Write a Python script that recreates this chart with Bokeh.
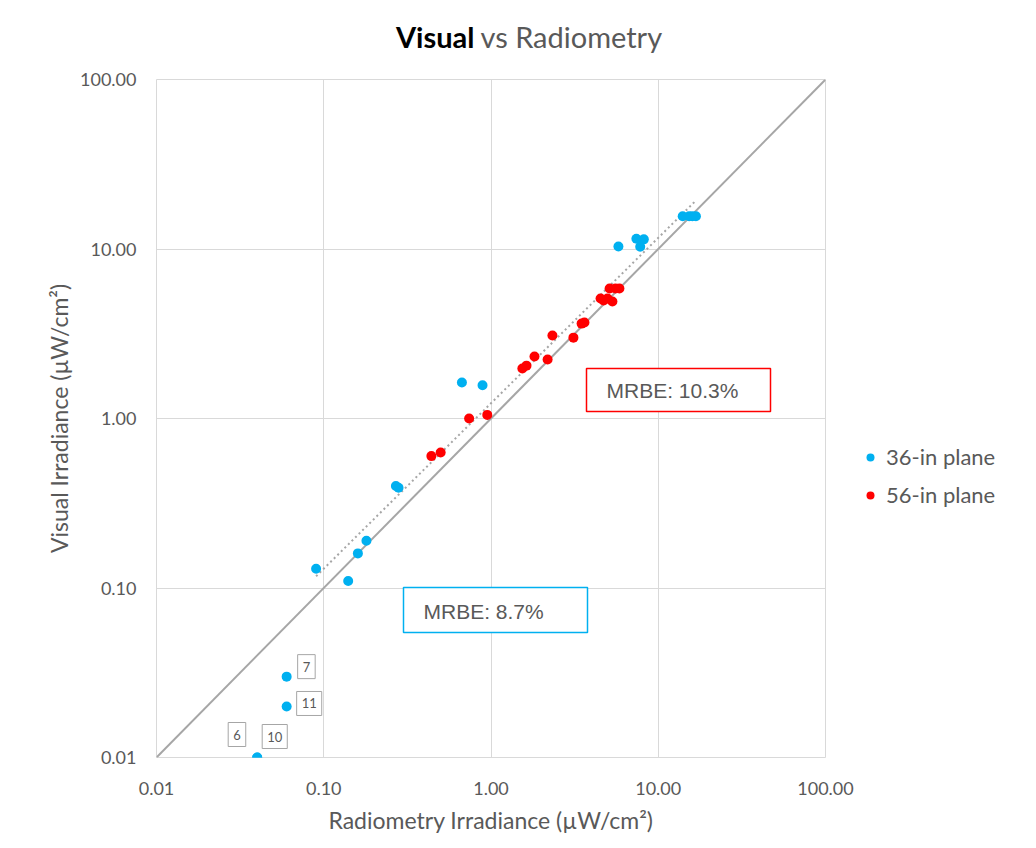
import numpy as np
from bokeh.plotting import figure
from bokeh.layouts import column
from bokeh.models import (FixedTicker, Label, BoxAnnotation, Legend, LegendItem)
from bokeh.embed import file_html
from bokeh.resources import INLINE

# ---- data ----
blue_x = [0.04, 0.04, 0.06, 0.06, 0.09, 0.14, 0.16, 0.18, 0.27, 0.28, 0.67, 0.89,
          5.78, 7.4, 8.2, 7.8, 14.0, 15.3, 16.0, 16.8]
blue_y = [0.01, 0.01, 0.03, 0.02, 0.13, 0.11, 0.16, 0.19, 0.40, 0.39, 1.63, 1.57,
          10.35, 11.5, 11.4, 10.3, 15.6, 15.6, 15.6, 15.6]
red_x = [0.44, 0.50, 0.74, 0.95, 1.54, 1.63, 1.82, 2.18, 2.33, 3.11, 3.48, 3.62,
         4.52, 4.71, 4.97, 5.32, 5.12, 5.55, 5.86]
red_y = [0.60, 0.63, 1.00, 1.05, 1.97, 2.05, 2.32, 2.23, 3.09, 3.00, 3.63, 3.68,
         5.10, 4.97, 5.10, 4.90, 5.85, 5.85, 5.85]
identity_x = [0.01, 100]
trend_x = [0.09, 16.5]
trend_coef = 1.23
trend_exp = 0.976
tick_vals = [0.01, 0.1, 1, 10, 100]
tick_labels = ["0.01", "0.10", "1.00", "10.00", "100.00"]
point_tags = ["6", "10", "7", "11"]
point_tag_x = [0.04, 0.04, 0.06, 0.06]
point_tag_y = [0.01, 0.01, 0.03, 0.02]
mrbe_red = "MRBE: 10.3%"
mrbe_blue = "MRBE: 8.7%"
series_names = ["36-in plane", "56-in plane"]

GRAY_TXT = "#595959"
BLUE = "#00B0F0"
RED = "#FF0000"
CAL = "Lato"

# ---- title strip (frame aligned with main plot frame) ----
t = figure(frame_width=669, frame_height=60, min_border=0,
           x_range=(0, 1), y_range=(0, 1),
           x_axis_location=None, y_axis_location=None,
           output_backend="svg", toolbar_location=None)
t.grid.visible = False
t.outline_line_color = None
t.add_layout(Label(x=318, y=24, x_units="screen", y_units="screen", text="Visual",
                   text_font=CAL, text_font_size="29px", text_font_style="bold",
                   text_color="black", text_align="right", text_baseline="middle"))
t.add_layout(Label(x=324, y=24, x_units="screen", y_units="screen", text="vs Radiometry",
                   text_font=CAL, text_font_size="29px", text_font_style="normal",
                   text_color=GRAY_TXT, text_align="left", text_baseline="middle"))

# ---- main plot ----
p = figure(x_axis_type="log", y_axis_type="log",
           x_range=(0.01, 100), y_range=(0.01, 100),
           frame_width=669, frame_height=678,
           min_border_left=156, min_border_right=195,
           min_border_top=19, min_border_bottom=75,
           output_backend="svg", toolbar_location=None)
p.outline_line_color = "#d9d9d9"

for ax in (p.xaxis[0], p.yaxis[0]):
    ax.ticker = FixedTicker(ticks=tick_vals, minor_ticks=[])
    ax.major_label_overrides = {v: l for v, l in zip(tick_vals, tick_labels)}
    ax.axis_line_color = None
    ax.major_tick_line_color = None
    ax.minor_tick_line_color = None
    ax.major_label_text_font = CAL
    ax.major_label_text_font_size = "18px"
    ax.major_label_text_color = GRAY_TXT
    ax.axis_label_text_font = CAL
    ax.axis_label_text_font_size = "23px"
    ax.axis_label_text_font_style = "normal"
    ax.axis_label_text_color = GRAY_TXT

p.xaxis.major_label_standoff = 18
p.yaxis.major_label_standoff = 14
p.xaxis.axis_label = "Radiometry Irradiance (µW/cm²)"
p.yaxis.axis_label = "Visual Irradiance (µW/cm²)"
p.xaxis.axis_label_standoff = 8
p.yaxis.axis_label_standoff = 4

for g in (p.xgrid[0], p.ygrid[0]):
    g.ticker = FixedTicker(ticks=tick_vals, minor_ticks=[])
    g.grid_line_color = "#d9d9d9"
    g.grid_line_width = 1

p.line(identity_x, identity_x, line_color="#a6a6a6", line_width=2)
tx = np.array(trend_x)
p.line(tx, trend_coef * tx ** trend_exp, line_color="#a6a6a6", line_width=2,
       line_dash="2 3")

r_blue = p.scatter(blue_x, blue_y, size=10, color=BLUE, line_color=None)
r_red = p.scatter(red_x, red_y, size=10, color=RED, line_color=None)

tag_offsets = {"6": (-29, 11), "10": (5, 9), "7": (11, -2), "11": (10, -9)}
for tg, x, y in zip(point_tags, point_tag_x, point_tag_y):
    dx, dy = tag_offsets[tg]
    p.add_layout(Label(x=x, y=y, x_offset=dx, y_offset=dy, text=tg,
                       text_font=CAL, text_font_size="13px", text_color=GRAY_TXT,
                       text_baseline="bottom", text_align="left",
                       border_line_color="#a6a6a6", border_line_width=1,
                       background_fill_color="white",
                       padding=dict(left=5, right=5, top=7, bottom=7)))

p.add_layout(BoxAnnotation(left=430, right=614, top=389, bottom=346,
                           left_units="screen", right_units="screen",
                           top_units="screen", bottom_units="screen",
                           fill_color="white", fill_alpha=1,
                           line_color=RED, line_width=1.5, line_alpha=1))
p.add_layout(Label(x=450, y=367, x_units="screen", y_units="screen", text=mrbe_red,
                   text_font="Liberation Sans", text_font_size="21px",
                   text_color=GRAY_TXT, text_baseline="middle"))
p.add_layout(BoxAnnotation(left=247, right=431, top=170, bottom=125,
                           left_units="screen", right_units="screen",
                           top_units="screen", bottom_units="screen",
                           fill_color="white", fill_alpha=1,
                           line_color=BLUE, line_width=1.5, line_alpha=1))
p.add_layout(Label(x=267, y=146, x_units="screen", y_units="screen", text=mrbe_blue,
                   text_font="Liberation Sans", text_font_size="21px",
                   text_color=GRAY_TXT, text_baseline="middle"))

legend = Legend(items=[LegendItem(label=series_names[0], renderers=[r_blue]),
                       LegendItem(label=series_names[1], renderers=[r_red])],
                location=(35, 249), padding=0, margin=0, spacing=11,
                glyph_width=20, glyph_height=20, label_height=20,
                label_standoff=6, border_line_color=None,
                background_fill_alpha=0,
                label_text_font=CAL, label_text_font_size="22px",
                label_text_color=GRAY_TXT)
p.add_layout(legend, "right")

open("out.html", "w").write(file_html(column(t, p, spacing=0), INLINE))
